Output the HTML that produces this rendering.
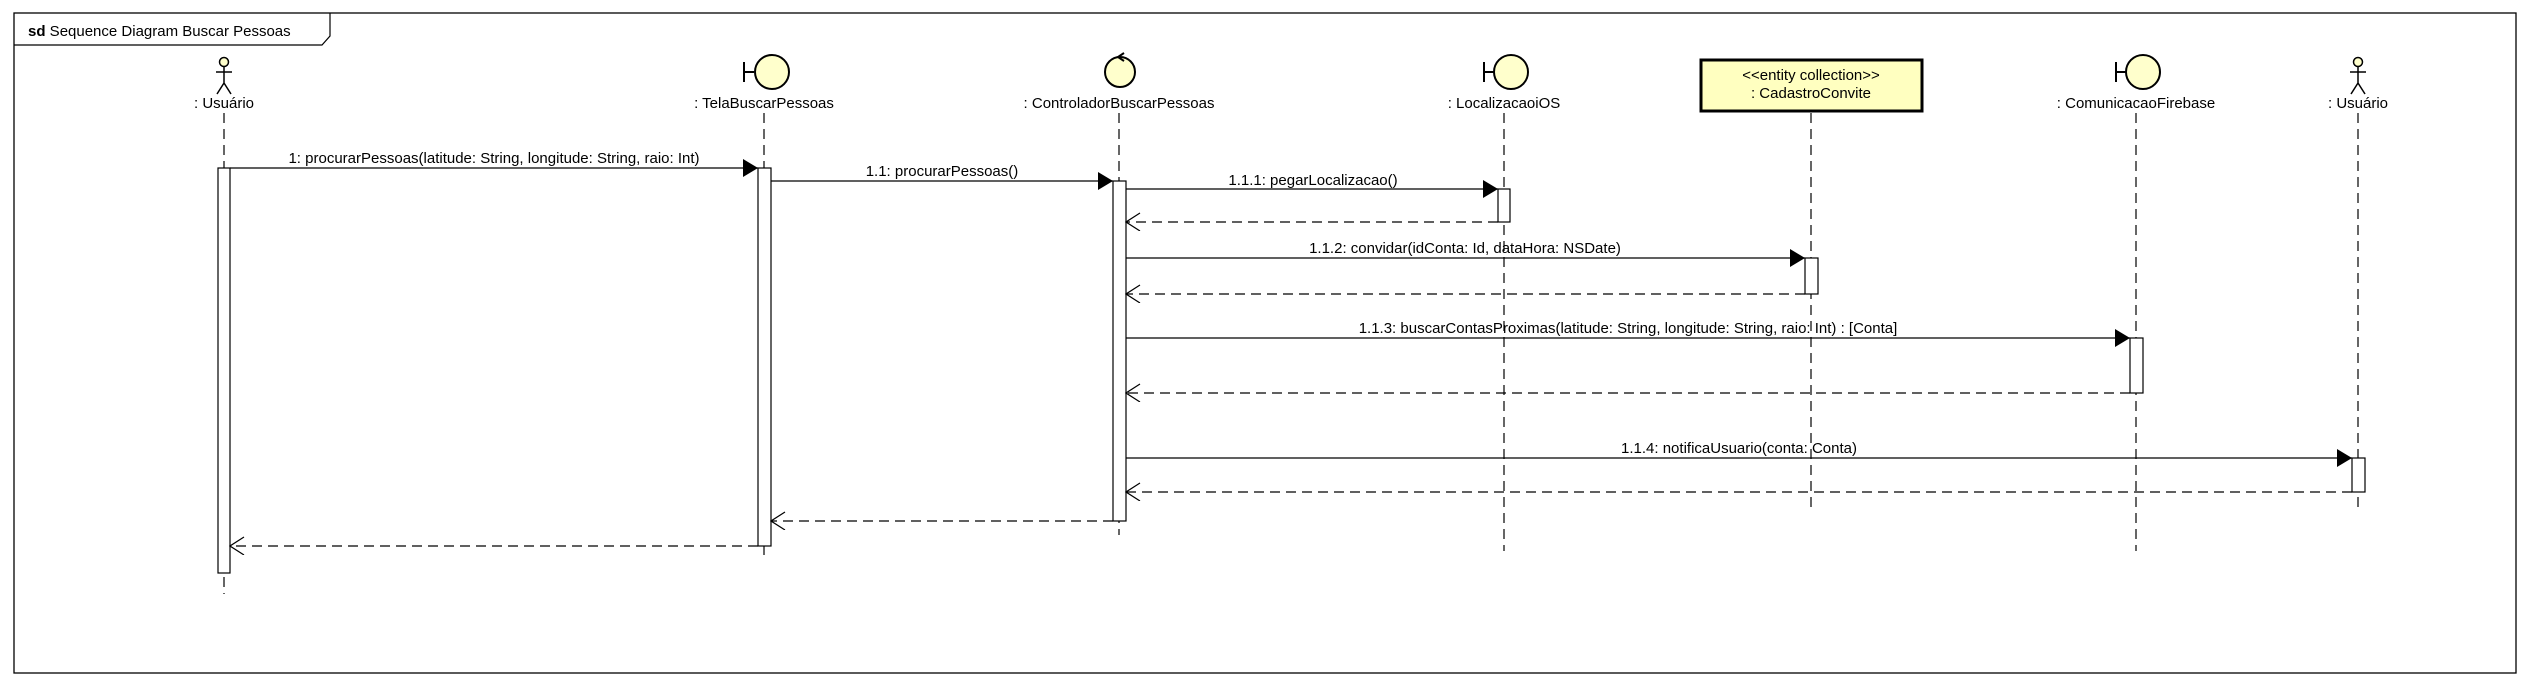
<!DOCTYPE html>
<html><head><meta charset="utf-8"><style>html,body{margin:0;padding:0;background:#fff}svg{display:block}text{font-family:"Liberation Sans",sans-serif;font-size:15px;fill:#000}</style></head><body>
<svg width="2529" height="685" viewBox="0 0 2529 685" xmlns="http://www.w3.org/2000/svg">
<defs>
<marker id="f" markerWidth="16" markerHeight="18" refX="15" refY="9" orient="auto" markerUnits="userSpaceOnUse"><path d="M0,0 L15,9 L0,18 Z" fill="#000"/></marker>
<marker id="o" markerWidth="16" markerHeight="20" refX="15" refY="9" orient="auto" markerUnits="userSpaceOnUse"><path d="M1,0 L15,9 L1,18" fill="none" stroke="#000" stroke-width="1.2" stroke-dasharray="none"/></marker>
</defs>
<rect x="14" y="13" width="2502" height="660" fill="#fff" stroke="#000" stroke-width="1.3"/>
<path d="M14,45 L322,45 L330,36 L330,13" fill="none" stroke="#000" stroke-width="1.2"/>
<text x="28" y="36"><tspan font-weight="bold">sd</tspan> Sequence Diagram Buscar Pessoas</text>
<g stroke="#000" stroke-width="1.2" stroke-dasharray="10,6" fill="none">
<line x1="224" y1="113" x2="224" y2="594"/>
<line x1="764" y1="113" x2="764" y2="559"/>
<line x1="1119" y1="113" x2="1119" y2="535"/>
<line x1="1504" y1="113" x2="1504" y2="551"/>
<line x1="1811" y1="113" x2="1811" y2="511"/>
<line x1="2136" y1="113" x2="2136" y2="551"/>
<line x1="2358" y1="113" x2="2358" y2="511"/>
</g>
<g stroke="#000" stroke-width="1.5" fill="#FFFFCC">
<circle cx="224" cy="62" r="4.5"/><path d="M224,67 L224,83 M216,72 L232,72 M224,83 L217,94 M224,83 L231,94" fill="none"/>
<circle cx="2358" cy="62" r="4.5"/><path d="M2358,67 L2358,83 M2350,72 L2366,72 M2358,83 L2351,94 M2358,83 L2365,94" fill="none"/>
</g>
<g stroke="#000" stroke-width="2" fill="#FFFFCC">
<path d="M744,62 L744,82 M744,72 L754,72" fill="none"/><circle cx="772" cy="72" r="17"/>
<path d="M1484,62 L1484,82 M1484,72 L1494,72" fill="none"/><circle cx="1511" cy="72" r="17"/>
<path d="M2116,62 L2116,82 M2116,72 L2126,72" fill="none"/><circle cx="2143" cy="72" r="17"/>
<circle cx="1120" cy="72" r="15"/><path d="M1124,53 L1118,57 L1124,61" fill="none"/>
</g>
<rect x="1701" y="60" width="221" height="51" fill="#FFFFC0" stroke="#000" stroke-width="3"/>
<text x="1811" y="80" text-anchor="middle">&lt;&lt;entity collection&gt;&gt;</text>
<text x="1811" y="98" text-anchor="middle">: CadastroConvite</text>
<g text-anchor="middle">
<text x="224" y="108">: Usuário</text>
<text x="764" y="108">: TelaBuscarPessoas</text>
<text x="1119" y="108">: ControladorBuscarPessoas</text>
<text x="1504" y="108">: LocalizacaoiOS</text>
<text x="2136" y="108">: ComunicacaoFirebase</text>
<text x="2358" y="108">: Usuário</text>
</g>
<g fill="#fff" stroke="#000" stroke-width="1.2">
<rect x="218" y="168" width="12" height="405"/>
<rect x="758" y="168" width="13" height="378"/>
<rect x="1113" y="181" width="13" height="340"/>
<rect x="1498" y="189" width="12" height="33"/>
<rect x="1805" y="258" width="13" height="36"/>
<rect x="2130" y="338" width="13" height="55"/>
<rect x="2352" y="458" width="13" height="34"/>
</g>
<g stroke="#000" stroke-width="1.3">
<line x1="230" y1="168" x2="758" y2="168" marker-end="url(#f)"/>
<line x1="771" y1="181" x2="1113" y2="181" marker-end="url(#f)"/>
<line x1="1126" y1="189" x2="1498" y2="189" marker-end="url(#f)"/>
<line x1="1126" y1="258" x2="1805" y2="258" marker-end="url(#f)"/>
<line x1="1126" y1="338" x2="2130" y2="338" marker-end="url(#f)"/>
<line x1="1126" y1="458" x2="2352" y2="458" marker-end="url(#f)"/>
</g>
<g stroke="#000" stroke-width="1.3" stroke-dasharray="10,6">
<line x2="1126" y1="222" x1="1498" y2="222" marker-end="url(#o)"/>
<line x2="1126" y1="294" x1="1805" y2="294" marker-end="url(#o)"/>
<line x2="1126" y1="393" x1="2130" y2="393" marker-end="url(#o)"/>
<line x2="1126" y1="492" x1="2352" y2="492" marker-end="url(#o)"/>
<line x2="771" y1="521" x1="1113" y2="521" marker-end="url(#o)"/>
<line x2="230" y1="546" x1="758" y2="546" marker-end="url(#o)"/>
</g>
<g text-anchor="middle">
<text x="494" y="163">1: procurarPessoas(latitude: String, longitude: String, raio: Int)</text>
<text x="942" y="176">1.1: procurarPessoas()</text>
<text x="1313" y="185">1.1.1: pegarLocalizacao()</text>
<text x="1465" y="253">1.1.2: convidar(idConta: Id, dataHora: NSDate)</text>
<text x="1628" y="333">1.1.3: buscarContasProximas(latitude: String, longitude: String, raio: Int) : [Conta]</text>
<text x="1739" y="453">1.1.4: notificaUsuario(conta: Conta)</text>
</g>
</svg>
</body></html>
